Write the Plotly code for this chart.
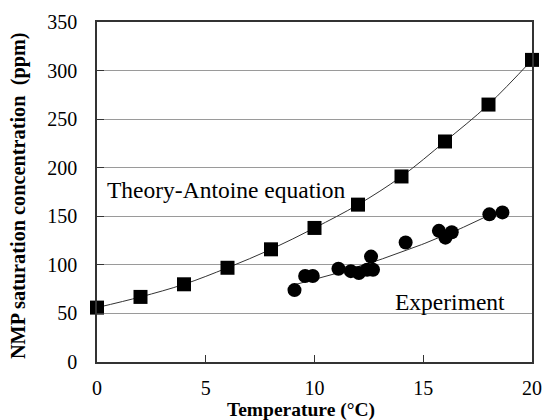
import numpy as np
import plotly.graph_objects as go

# Theory (Antoine equation) saturation concentration
theory_temp = [0, 2, 4, 6, 8, 10, 12, 14, 16, 18, 20]
theory_ppm = [56, 67, 80, 97, 116, 138, 162, 191, 227, 265, 311]

# Measured saturation concentration
exp_temp = [9.08, 9.57, 9.92, 11.1, 11.67, 12.04, 12.42, 12.6, 12.69,
            14.19, 15.72, 16.02, 16.31, 18.04, 18.64]
exp_ppm = [74, 88.5, 88.5, 96, 93.5, 91.5, 95, 108.5, 95,
           123, 135, 128, 133.5, 152, 154]

x_ticks = [0, 5, 10, 15, 20]
y_ticks = [0, 50, 100, 150, 200, 250, 300, 350]

FONT = "Times New Roman, Liberation Serif, DejaVu Serif, serif"

# exponential trendline through the measured points
b, ln_a = np.polyfit(exp_temp, np.log(exp_ppm), 1)
fit_t = np.linspace(min(exp_temp), max(exp_temp), 60)
fit_v = np.exp(ln_a) * np.exp(b * fit_t)

fig = go.Figure()

fig.add_trace(go.Scatter(
    x=theory_temp, y=theory_ppm, mode="lines",
    line=dict(color="#333333", width=1, shape="spline"),
    hoverinfo="skip", showlegend=False))
fig.add_trace(go.Scatter(
    x=fit_t, y=fit_v, mode="lines",
    line=dict(color="#333333", width=1),
    hoverinfo="skip", showlegend=False))
fig.add_trace(go.Scatter(
    x=theory_temp, y=theory_ppm, mode="markers", name="Theory-Antoine equation",
    marker=dict(symbol="square", size=14, color="black"),
    cliponaxis=False, showlegend=False))
fig.add_trace(go.Scatter(
    x=exp_temp, y=exp_ppm, mode="markers", name="Experiment",
    marker=dict(symbol="circle", size=14, color="black"),
    cliponaxis=False, showlegend=False))

fig.update_layout(
    width=553, height=420,
    margin=dict(l=97, r=11, t=12, b=58),
    paper_bgcolor="white", plot_bgcolor="white",
    font=dict(family=FONT, size=20, color="black"),
    annotations=[
        dict(text="Theory-Antoine equation", x=0.36, y=177, xref="x", yref="y",
             showarrow=False, xanchor="left", yanchor="middle",
             font=dict(family=FONT, size=23.5, color="black")),
        dict(text="Experiment", x=13.61, y=62, xref="x", yref="y",
             showarrow=False, xanchor="left", yanchor="middle",
             font=dict(family=FONT, size=23.5, color="black")),
        dict(text="<b>Temperature (°C)</b>", x=0.469, y=-0.14, xref="paper", yref="paper",
             showarrow=False, xanchor="center", yanchor="middle",
             font=dict(family=FONT, size=19.5, color="black")),
        dict(text="<b>NMP saturation concentration  (ppm)</b>", x=-0.18, y=0.49,
             xref="paper", yref="paper", textangle=-90,
             showarrow=False, xanchor="center", yanchor="middle",
             font=dict(family=FONT, size=20.3, color="black")),
    ],
)

fig.update_xaxes(
    range=[0, 20], tickvals=x_ticks, ticktext=[str(v) for v in x_ticks],
    ticks="inside", ticklen=7, tickcolor="#333333",
    showline=True, linecolor="#333333", linewidth=1.5, mirror=True,
    showgrid=False, zeroline=False, ticklabelstandoff=7)
fig.update_yaxes(
    range=[0, 350], tickvals=y_ticks, ticktext=[str(v) for v in y_ticks],
    ticks="inside", ticklen=7, tickcolor="#333333",
    showline=True, linecolor="#333333", linewidth=1.5, mirror=True,
    showgrid=True, gridcolor="#9a9a9a", gridwidth=1.3, zeroline=False,
    ticklabelstandoff=14)

fig.write_html("out.html")
